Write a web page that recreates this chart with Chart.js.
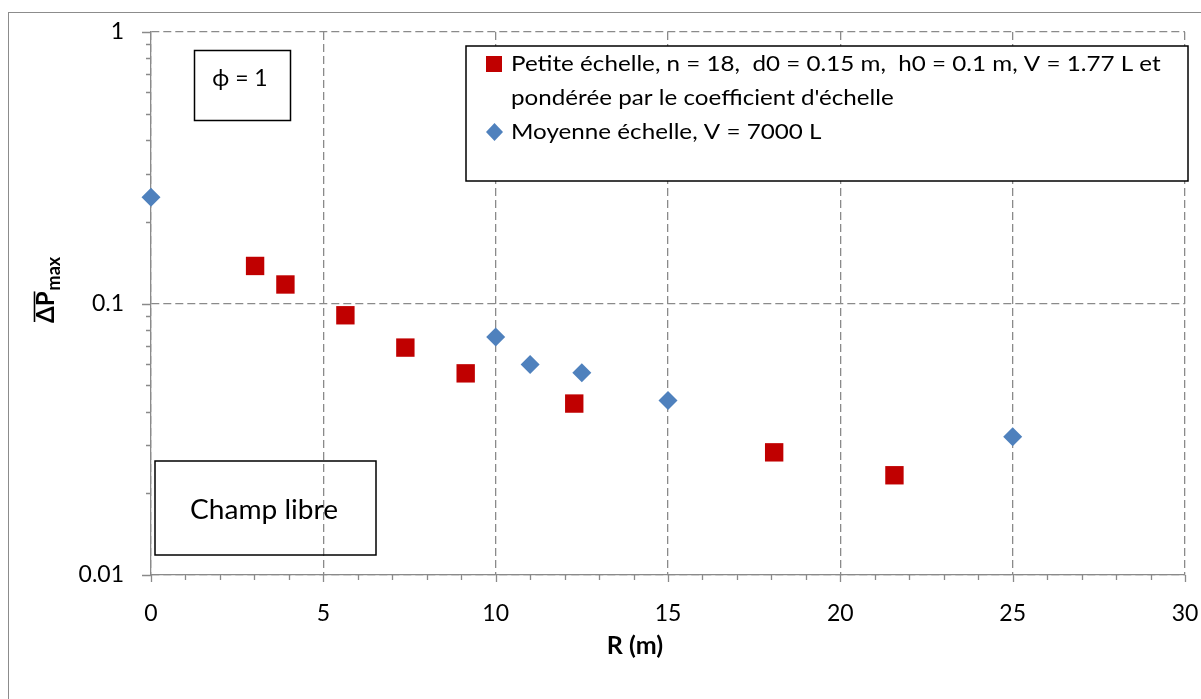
<!DOCTYPE html>
<html><head><meta charset="utf-8">
<script src="https://cdn.jsdelivr.net/npm/chart.js@4"></script>
<style>html,body{margin:0;padding:0;background:#fff}#wrap{width:1201px;height:699px;position:relative}</style>
</head><body><div id="wrap"><canvas id="c"></canvas></div>
<script>
// ---- data ----
const smallR = [3.02, 3.9, 5.64, 7.38, 9.13, 12.28, 18.08, 21.57];
const smallP = [0.1375, 0.1175, 0.0905, 0.0688, 0.0553, 0.0428, 0.0283, 0.0233];
const mediumR = [0, 10, 11, 12.5, 15, 25];
const mediumP = [0.246, 0.0752, 0.0596, 0.0556, 0.0439, 0.0323];
const xTicks = [0, 5, 10, 15, 20, 25, 30];
const yTicks = [0.01, 0.1, 1];
const seriesLabels = [
  "Petite échelle, n = 18,  d0 = 0.15 m,  h0 = 0.1 m, V = 1.77 L et\npondérée par le coefficient d'échelle",
  "Moyenne échelle, V = 7000 L"
];
const xTitle = "R (m)";
const yTitleMain = "ΔP";
const yTitleSub = "max";
const noteTop = "ϕ = 1";
const noteBottom = "Champ libre";

const RED = '#C00000', BLUE = '#4F81BD', GRID = '#8a8a8a';
const FONT = 'Lato, "Open Sans", sans-serif';

function stretchedText(ctx, text, x, y, sx) {
  ctx.save();
  ctx.translate(x, y);
  ctx.scale(sx, 1);
  ctx.fillText(text, 0, 0);
  ctx.restore();
}

const decor = {
  id: 'decor',
  beforeDraw(chart) {
    const ctx = chart.ctx;
    ctx.save();
    ctx.fillStyle = '#fff';
    ctx.fillRect(0, 0, chart.width, chart.height);
    ctx.strokeStyle = '#8c8c8c';
    ctx.lineWidth = 1;
    ctx.strokeRect(8.5, 12.5, 1300, 1000);
    ctx.restore();
  },
  afterDraw(chart) {
    const ctx = chart.ctx;
    const xs = chart.scales.x, ys = chart.scales.y;
    const ca = chart.chartArea;
    ctx.save();
    // tick marks
    ctx.strokeStyle = GRID;
    ctx.lineWidth = 1.3;
    ctx.beginPath();
    for (let v = 0; v <= 30; v++) {
      const px = Math.round(xs.getPixelForValue(v)) + 0.5;
      const len = (v % 5 === 0) ? 7 : 5;
      ctx.moveTo(px, ca.bottom); ctx.lineTo(px, ca.bottom + len);
    }
    yTicks.forEach(d => {
      const py = Math.round(ys.getPixelForValue(d)) + 0.5;
      ctx.moveTo(ca.left - 9, py); ctx.lineTo(ca.left, py);
      if (d < 1) {
        for (let k = 2; k <= 9; k++) {
          const p = Math.round(ys.getPixelForValue(k * d)) + 0.5;
          ctx.moveTo(ca.left - 5, p); ctx.lineTo(ca.left, p);
        }
      }
    });
    ctx.stroke();

    // annotation boxes
    ctx.strokeStyle = '#000';
    ctx.lineWidth = 1.5;
    ctx.strokeRect(194.5, 50.5, 96, 70);
    ctx.strokeRect(155, 461, 221, 94);
    ctx.fillStyle = '#000';
    ctx.textAlign = 'center';
    ctx.textBaseline = 'middle';
    ctx.font = '23px ' + FONT;
    ctx.fillText(noteTop, 240, 79);
    ctx.font = '26px ' + FONT;
    stretchedText(ctx, noteBottom, 264, 511, 1.08);

    // legend
    ctx.lineWidth = 1.5;
    ctx.fillStyle = '#fff';
    ctx.fillRect(466, 46, 722, 135);
    ctx.strokeRect(466, 46, 722, 135);
    ctx.font = '22px ' + FONT;
    ctx.textAlign = 'left';
    ctx.fillStyle = '#000';
    let ly = 64;
    chart.data.datasets.forEach((ds, i) => {
      const lines = ds.label.split('\n');
      if (i === 0) {
        ctx.fillStyle = RED;
        ctx.fillRect(486, ly - 8, 16, 16);
      } else {
        ctx.fillStyle = BLUE;
        ctx.beginPath();
        ctx.moveTo(494.5, ly - 9); ctx.lineTo(503, ly); ctx.lineTo(494.5, ly + 9); ctx.lineTo(486, ly);
        ctx.closePath(); ctx.fill();
      }
      ctx.fillStyle = '#000';
      lines.forEach(t => { stretchedText(ctx, t, 511, ly, 1.1); ly += 34; });
    });

    // axis titles
    ctx.font = 'bold 25px ' + FONT;
    ctx.textAlign = 'center';
    ctx.textBaseline = 'middle';
    ctx.fillText(xTitle, 635, 646);

    ctx.translate(54, 323);
    ctx.rotate(-Math.PI / 2);
    ctx.textAlign = 'left';
    ctx.textBaseline = 'alphabetic';
    ctx.font = 'bold 24px ' + FONT;
    const w1 = ctx.measureText(yTitleMain).width;
    ctx.fillText(yTitleMain, 0, 0);
    ctx.lineWidth = 1.6;
    ctx.beginPath();
    ctx.moveTo(1, -19.5); ctx.lineTo(w1, -19.5);
    ctx.stroke();
    ctx.font = 'bold 18px ' + FONT;
    ctx.fillText(yTitleSub, w1 + 1, 6);
    ctx.restore();
  }
};

new Chart(document.getElementById('c'), {
  type: 'scatter',
  data: {
    datasets: [
      {
        label: seriesLabels[0],
        data: smallR.map((r, i) => ({x: r, y: smallP[i]})),
        pointStyle: 'rect', pointRadius: 13, pointHoverRadius: 13,
        backgroundColor: RED, borderWidth: 0, clip: false
      },
      {
        label: seriesLabels[1],
        data: mediumR.map((r, i) => ({x: r, y: mediumP[i]})),
        pointStyle: 'rectRot', pointRadius: 9.5, pointHoverRadius: 9.5,
        backgroundColor: BLUE, borderWidth: 0, clip: false
      }
    ]
  },
  options: {
    responsive: true, maintainAspectRatio: false, animation: false,
    layout: {padding: {left: 0, right: 16, top: 32, bottom: 0}},
    plugins: {legend: {display: false}, tooltip: {enabled: false}},
    scales: {
      x: {
        type: 'linear', min: 0, max: 30,
        afterBuildTicks: s => { s.ticks = xTicks.map(v => ({value: v})); },
        afterFit: s => { s.height = 124; s.paddingLeft = 0; s.paddingRight = 0; },
        grid: {color: GRID, lineWidth: 1.3, drawTicks: false},
        border: {color: GRID, width: 1.3, dash: [8, 4]},
        ticks: {padding: 25, color: '#000', font: {family: FONT, size: 23}, maxRotation: 0, autoSkip: false}
      },
      y: {
        type: 'logarithmic', min: 0.01, max: 1,
        afterBuildTicks: s => { s.ticks = yTicks.map(v => ({value: v})); },
        afterFit: s => { s.width = 151; s.paddingTop = 0; s.paddingBottom = 0; },
        grid: {color: GRID, lineWidth: 1.3, drawTicks: false},
        border: {color: GRID, width: 1.3, dash: [8, 4]},
        ticks: {padding: 27, color: '#000', font: {family: FONT, size: 23}, autoSkip: false,
          callback: v => String(v)}
      }
    }
  },
  plugins: [decor]
});
</script>
</body></html>
